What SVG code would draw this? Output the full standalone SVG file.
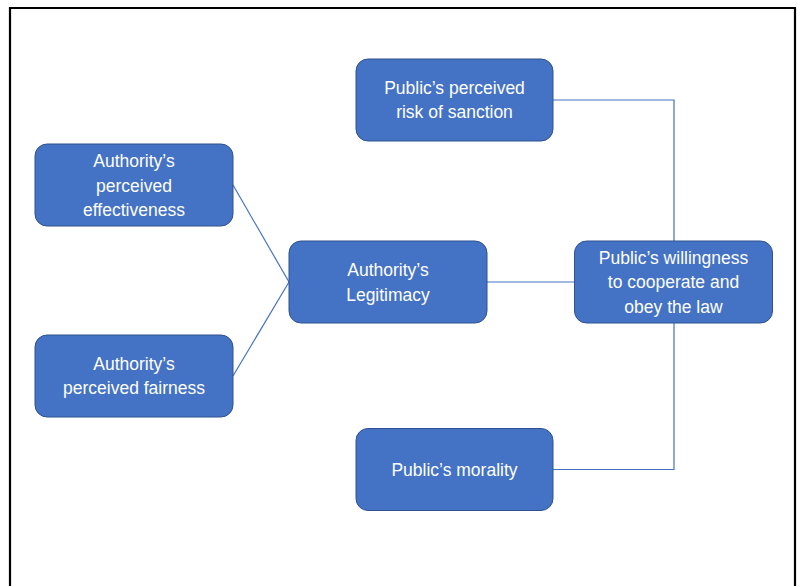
<svg xmlns="http://www.w3.org/2000/svg" width="797" height="586" viewBox="0 0 797 586">
  <style>
    .box { fill: #4472C4; stroke: #2F528F; stroke-width: 1; }
    .lbl { fill: #FFFFFF; font-family: "Liberation Sans", Arial, sans-serif; font-size: 17.5px; text-anchor: middle; }
    .link { fill: none; stroke: #4472C4; stroke-width: 1.2; }
  </style>
  <rect x="0" y="0" width="797" height="586" fill="#FFFFFF"/>
  <!-- outer frame -->
  <path d="M10 586 V8 H795 V586" fill="none" stroke="#000000" stroke-width="2.2"/>

  <g id="connectors">
    <line class="link" x1="233" y1="185" x2="289" y2="282"/>
    <line class="link" x1="233" y1="376" x2="289" y2="282"/>
    <line class="link" x1="487" y1="282" x2="574" y2="282"/>
    <polyline class="link" points="553,100 674,100 674,241"/>
    <polyline class="link" points="553,469.5 674,469.5 674,323"/>
  </g>

  <g id="node-effectiveness">
    <rect class="box" x="35" y="144" width="198" height="82" rx="12"/>
    <text class="lbl" x="134" y="167">Authority’s</text>
    <text class="lbl" x="134" y="191.5">perceived</text>
    <text class="lbl" x="134" y="216">effectiveness</text>
  </g>

  <g id="node-fairness">
    <rect class="box" x="35" y="335" width="198" height="82" rx="12"/>
    <text class="lbl" x="134" y="369.5">Authority’s</text>
    <text class="lbl" x="134" y="394">perceived fairness</text>
  </g>

  <g id="node-legitimacy">
    <rect class="box" x="289" y="241" width="198" height="82" rx="12"/>
    <text class="lbl" x="388" y="276">Authority’s</text>
    <text class="lbl" x="388" y="300.5">Legitimacy</text>
  </g>

  <g id="node-willingness">
    <rect class="box" x="574.5" y="241" width="198" height="82" rx="12"/>
    <text class="lbl" x="673.5" y="263.5">Public’s willingness</text>
    <text class="lbl" x="673.5" y="288">to cooperate and</text>
    <text class="lbl" x="673.5" y="312.5">obey the law</text>
  </g>

  <g id="node-sanction">
    <rect class="box" x="356" y="59" width="197" height="82" rx="12"/>
    <text class="lbl" x="454.5" y="93.5">Public’s perceived</text>
    <text class="lbl" x="454.5" y="118">risk of sanction</text>
  </g>

  <g id="node-morality">
    <rect class="box" x="356" y="428.5" width="197" height="82" rx="12"/>
    <text class="lbl" x="454.5" y="475.5">Public’s morality</text>
  </g>
</svg>
